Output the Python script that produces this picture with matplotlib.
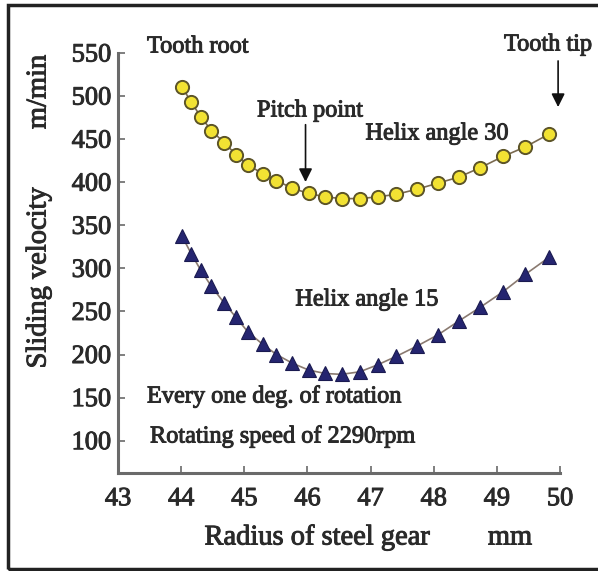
import matplotlib
matplotlib.use("Agg")
import matplotlib.pyplot as plt
import matplotlib.patheffects as pe
from matplotlib.patches import Rectangle

# ---- data ----
radius = [44.01, 44.16, 44.31, 44.48, 44.68, 44.87, 45.06, 45.29, 45.51, 45.76, 46.02, 46.28,
          46.54, 46.83, 47.11, 47.41, 47.74, 48.07, 48.40, 48.74, 49.10, 49.45, 49.83]
helix30 = [511, 493, 476, 460, 446, 432, 420, 410, 402, 393, 387, 383,
           381, 381, 383, 386, 392, 399, 406, 417, 430, 441, 456]
helix15 = [338, 317, 298, 279, 260, 243, 226, 212, 200, 190, 182, 178,
           177, 180, 188, 198, 210, 223, 239, 255, 273, 293, 313]
xticks = [43, 44, 45, 46, 47, 48, 49, 50]
yticks = [100, 150, 200, 250, 300, 350, 400, 450, 500, 550]

W, H = 598, 571
fig = plt.figure(figsize=(W / 100, H / 100), dpi=100)
plt.rcParams['font.family'] = ['Liberation Serif', 'DejaVu Serif']
TXT = '#2a2a2a'
HEAVY = [pe.withStroke(linewidth=0.7, foreground=TXT)]


def ftxt(px, py, s, size, **kw):
    fig.text(px / W, 1 - py / H, s, fontsize=size, color=TXT,
             path_effects=HEAVY, **kw)


# outer frame (right edge runs off the image)
fig.patches.append(Rectangle((8 / W, 1 - 569 / H), 2.0, (569 - 5) / H,
                             transform=fig.transFigure, fill=False,
                             edgecolor='#222222', linewidth=2.5))

ax = fig.add_axes([118 / W, 1 - 473 / H, (560 - 118) / W, (473 - 53) / H])
ax.set_xlim(43, 50)
ax.set_ylim(62.5, 550)
for s in ['top', 'right']:
    ax.spines[s].set_visible(False)
for s in ['left', 'bottom']:
    ax.spines[s].set_color('#6a6a6a')
    ax.spines[s].set_linewidth(2.2)

ax.plot(radius, helix30, '-', color='#7a6a50', linewidth=1.2, marker='o',
        markersize=9.5, markerfacecolor='#f2e233', markeredgecolor='#5c5428',
        markeredgewidth=1.4, zorder=3)
ax.plot(radius, helix15, '-', color='#8a7a70', linewidth=1.2, marker='^',
        markersize=10.5, markerfacecolor='#252570', markeredgecolor='#1a1a50',
        markeredgewidth=0.8, zorder=3)

ax.set_xticks(xticks)
ax.set_yticks(yticks)
ax.tick_params(direction='in', length=5, width=1.2, color='#6a6a6a',
               labelsize=19, labelcolor=TXT, pad=5)
ax.tick_params(axis='x', pad=11)
for lab in ax.get_xticklabels() + ax.get_yticklabels():
    lab.set_path_effects(HEAVY)

# axis labels
ftxt(317, 538, 'Radius of steel gear', 20.5, ha='center', va='center')
ftxt(510, 538, 'mm', 20.5, ha='center', va='center')
ftxt(39, 278, 'Sliding velocity', 20.5, ha='center', va='center', rotation=90)
ftxt(39, 92, 'm/min', 20.5, ha='center', va='center', rotation=90)

# annotations
fs = 17.5
ftxt(147, 47, 'Tooth root', fs, ha='left', va='center')
ftxt(548, 45, 'Tooth tip', fs, ha='center', va='center')
ftxt(310, 111, 'Pitch point', fs, ha='center', va='center')
ftxt(437, 134, 'Helix angle 30', fs, ha='center', va='center')
ftxt(367, 300, 'Helix angle 15', fs, ha='center', va='center')
ftxt(147, 397, 'Every one deg. of rotation', fs, ha='left', va='center')
ftxt(150, 437, 'Rotating speed of 2290rpm', fs, ha='left', va='center')

ax.annotate('', xy=(49.97, 484), xytext=(49.97, 544),
            arrowprops=dict(arrowstyle='-|>', color='#111111', lw=1.2,
                            mutation_scale=20), annotation_clip=False)
ax.annotate('', xy=(45.97, 397), xytext=(45.97, 470),
            arrowprops=dict(arrowstyle='-|>', color='#111111', lw=1.2,
                            mutation_scale=20))

fig.savefig('out.png', dpi=100)
